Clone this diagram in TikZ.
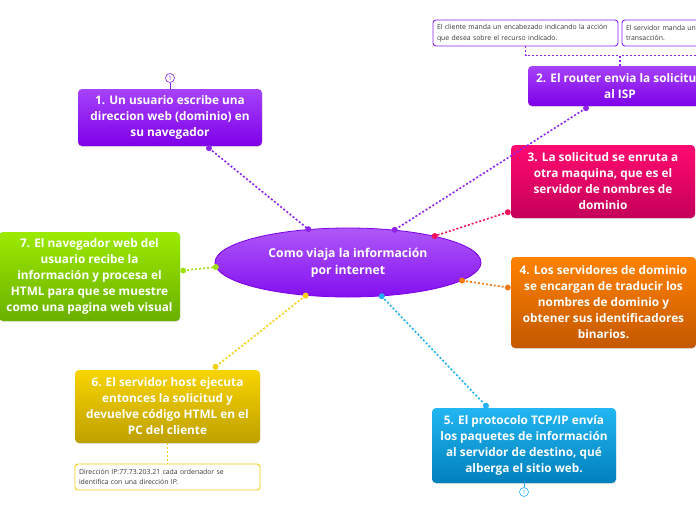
\documentclass[tikz,border=0pt]{standalone}
\usepackage{fontspec}
\setmainfont{Open Sans}
\usepackage{tikz}
\usetikzlibrary{positioning}
\usetikzlibrary{shapes}
\usetikzlibrary{shadows}

\definecolor{violetA}{HTML}{A642FA}
\definecolor{violetB}{HTML}{7E00E8}
\definecolor{violetL}{HTML}{8E24EC}
\definecolor{rootA}{HTML}{AE58F8}
\definecolor{rootB}{HTML}{8410F0}
\definecolor{roseA}{HTML}{FF0A70}
\definecolor{roseB}{HTML}{C4005A}
\definecolor{roseL}{HTML}{F0105C}
\definecolor{amberA}{HTML}{FF8200}
\definecolor{amberB}{HTML}{C45800}
\definecolor{amberL}{HTML}{F27A14}
\definecolor{skyA}{HTML}{22B6F2}
\definecolor{skyB}{HTML}{0080BC}
\definecolor{skyL}{HTML}{22B0F0}
\definecolor{goldA}{HTML}{F8D400}
\definecolor{goldB}{HTML}{BEA000}
\definecolor{goldL}{HTML}{F4D010}
\definecolor{limeA}{HTML}{9CEA00}
\definecolor{limeB}{HTML}{6AB000}
\definecolor{limeL}{HTML}{A0E010}
\definecolor{notetext}{HTML}{3A3A3A}

\tikzset{
  topic/.style={rectangle, rounded corners=4pt, text=white, align=center,
                font=\bfseries\fontsize{11.8}{16}\selectfont, inner sep=0pt,
                drop shadow={opacity=0.2, shadow xshift=0.4pt, shadow yshift=-1pt}},
  note/.style={rectangle, rounded corners=3pt, draw, line width=0.9pt, fill=white,
               text=notetext, align=left, font=\fontsize{6.9}{10.5}\selectfont,
               inner sep=0pt, minimum height=26pt},
  link/.style={dash pattern=on 2pt off 2pt, line width=1.6pt},
  marker/.style={circle, draw, line width=0.6pt, inner sep=0pt, minimum size=9pt,
                 font=\fontsize{6}{6}\selectfont}
}

\begin{document}
\begin{tikzpicture}[x=1pt, y=-1pt]                                   % pixel grid, y down
  \useasboundingbox (0,0) rectangle (696,520);
  \clip (0,0) rectangle (696,520);

  % central topic
  \node[ellipse, draw=violetB, line width=0.8pt, top color=rootA, bottom color=rootB,
        minimum width=266pt, minimum height=69pt, inner sep=0pt, text=white, align=center,
        font=\bfseries\fontsize{12.2}{17}\selectfont] (root) at (348,262.5)
        {Como viaja la información\\por internet};

  % main topics
  \node[topic, top color=violetA, bottom color=violetB, minimum width=184pt, minimum height=57pt]
        (n1) at (170,117.5) {1. Un usuario escribe una\\direccion web (dominio) en\\su navegador};
  \node[topic, top color=violetA, bottom color=violetB, minimum width=184pt, minimum height=40pt]
        (n2) at (620,86) {2. El router envia la solicitud\\al ISP};
  \node[topic, top color=roseA, bottom color=roseB, minimum width=184pt, minimum height=73pt]
        (n3) at (603,181.5) {3. La solicitud se enruta a\\otra maquina, que es el\\servidor de nombres de\\dominio};
  \node[topic, top color=amberA, bottom color=amberB, minimum width=185pt, minimum height=91pt]
        (n4) at (603.5,302.5) {4. Los servidores de dominio\\se encargan de traducir los\\nombres de dominio y\\obtener sus identificadores\\binarios.};
  \node[topic, top color=skyA, bottom color=skyB, minimum width=184pt, minimum height=75pt]
        (n5) at (524,445.5) {5. El protocolo TCP/IP envía\\los paquetes de información\\al servidor de destino, qué\\alberga el sitio web.};
  \node[topic, top color=goldA, bottom color=goldB, minimum width=185pt, minimum height=73pt]
        (n6) at (167.5,406.5) {6. El servidor host ejecuta\\entonces la solicitud y\\devuelve código HTML en el\\PC del cliente};
  \node[topic, top color=limeA, bottom color=limeB, minimum width=181pt, minimum height=89pt]
        (n7) at (89.5,276.5) {7. El navegador web del\\usuario recibe la\\información y procesa el\\HTML para que se muestre\\como una pagina web visual};

  % notes
  \node[note, draw=violetL, text width=177pt, minimum width=185pt] (ca) at (525.5,33)
        {El cliente manda un encabezado indicando la acción\\que desea sobre el recurso indicado.};
  \node[note, draw=violetL, text width=177pt, minimum width=185pt] (cb) at (714.5,33)
        {El servidor manda un\\transacción.};
  \node[note, draw=goldL, text width=177pt, minimum width=185pt] (cc) at (167.5,477)
        {Dirección IP:77.73.203.21 cada ordenador se\\identifica con una dirección IP.};

  % markers
  \node[marker, violetL, text=violetL] (m1) at (170,78) {1};
  \node[marker, skyL, text=skyL] (m5) at (524,492) {1};
  \draw[violetL, line width=1pt] (m1) -- (n1);
  \draw[skyL, line width=1pt] (n5) -- (m5);

  % end points of the links
  \coordinate (t1) at ([xshift=39pt, yshift=-2pt]n1.south);
  \coordinate (t2) at ([xshift=-34pt, yshift=-2pt]n2.south);
  \coordinate (t3) at ([xshift=-3pt, yshift=6pt]n3.south west);
  \coordinate (t4) at ([xshift=-3pt, yshift=15pt]n4.west);
  \coordinate (t5) at ([xshift=-38pt, yshift=2pt]n5.north);
  \coordinate (t6) at ([xshift=48pt, yshift=3pt]n6.north);
  \coordinate (t7) at ([xshift=3pt, yshift=6pt]n7.east);

  % links
  \draw[link, violetL] (t1) -- (root.140);
  \draw[link, violetL] (t2) -- (root.35);
  \draw[link, roseL] (t3) -- (root.17);
  \draw[link, amberL] (root.-9) -- (t4);
  \draw[link, skyL] (root.-45) -- (t5);
  \draw[link, goldL] (root.-142) -- (t6);
  \draw[link, limeL] (t7) -- (root.182);
  \fill[violetL] (t1) circle (3pt) (root.140) circle (3pt)
                 (t2) circle (3pt) (root.35) circle (3pt);
  \fill[roseL] (t3) circle (3pt) (root.17) circle (3pt);
  \fill[amberL] (t4) circle (3pt) (root.-9) circle (3pt);
  \fill[skyL] (t5) circle (3pt) (root.-45) circle (3pt);
  \fill[goldL] (t6) circle (3pt) (root.-142) circle (3pt);
  \fill[limeL] (t7) circle (3pt) (root.182) circle (3pt);

  % note links
  \coordinate (j2) at ([yshift=10pt]n2.north);
  \draw[link, violetL, line width=1.2pt] (ca.south) |- (j2);
  \draw[link, violetL, line width=1.2pt] (n2.north) -- (j2) -| (cb.south);
  \draw[link, goldL, line width=1.2pt] (n6.south) -- (cc.north);
\end{tikzpicture}
\end{document}
